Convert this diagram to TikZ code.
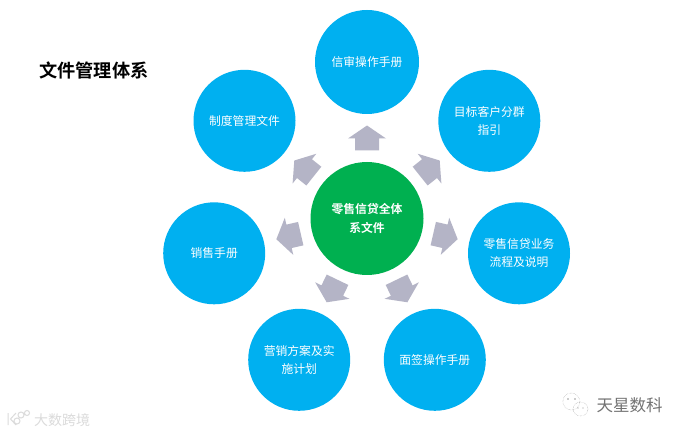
\documentclass[tikz,border=0pt]{standalone}
\usepackage{fontspec}
\setmainfont{Noto Sans CJK SC}
\newfontfamily\cjkb{Noto Sans CJK SC Bold}
\definecolor{sky}{HTML}{00B0F0}
\definecolor{leaf}{HTML}{00B050}
\definecolor{arrowgrey}{HTML}{B4B4C6}
\tikzset{
  petal/.style={circle,fill=sky,minimum size=102pt,inner sep=0pt,text=white,font=\fontsize{11.8}{18.4}\selectfont,align=center,text width=88pt},
  hub/.style={circle,fill=leaf,minimum size=113pt,inner sep=0pt,text=white,font=\fontsize{11.8}{18.4}\selectfont\cjkb,align=center,text width=96pt},
  wmark/.style={inner sep=0pt},
}
\newcommand{\housearrow}[1]{%
  \fill[arrowgrey,rotate around={#1:(hub.center)},shift={(hub.center)}]
    (0,93) -- (19,80) -- (12,80) -- (12,68) -- (-12,68) -- (-12,80) -- (-19,80) -- cycle;}
\begin{document}
\begin{tikzpicture}[x=1pt,y=1pt]
\useasboundingbox (0,0) rectangle (685,434);
\fill[white] (0,0) rectangle (685,434);
\node[hub] (hub) at (367,215.5) {零售信贷全体\\系文件};
\node[petal,minimum size=104pt] (p1) at (367,372) {信审操作手册};
\node[petal] (p2) at (489.3,313.2) {目标客户分群\\指引};
\node[petal] (p3) at (519,180.7) {零售信贷业务\\流程及说明};
\node[petal] (p4) at (434.8,74.2) {面签操作手册};
\node[petal] (p5) at (299.2,74.2) {营销方案及实\\施计划};
\node[petal] (p6) at (214.2,180.7) {销售手册};
\node[petal] (p7) at (244.5,313.2) {制度管理文件};
\foreach \a in {0,-51.43,-102.86,-154.29,154.29,102.86,51.43}{\housearrow{\a}}
\node[anchor=west,inner sep=0pt,font=\fontsize{18.2}{20}\selectfont\cjkb] (title) at (39,363.5) {文件管理体系};
% watermarks
\node[wmark,text=black!14,anchor=west,font=\fontsize{14}{16}\selectfont] (wm1) at (34,13.5) {大数跨境};
\draw[black!14,line width=1pt] (8,9) -- (8,21) (16,21) -- (10.5,15) -- (16,9)
  (17,13) circle (3) (21,19) circle (3) (27,21) circle (2.5);
\node[wmark,text=black!55,anchor=west,font=\fontsize{16.5}{18}\selectfont] (wm2) at (596.5,28.3) {天星数科};
\draw[black!40,densely dotted] (571.3,32.5) ellipse (8.5 and 8.5) (580.5,25) ellipse (7.5 and 7);
\fill[black!40] (568,35) circle (0.8) (575,35) circle (0.8) (578,26) circle (0.7) (583,26) circle (0.7);
\end{tikzpicture}
\end{document}
